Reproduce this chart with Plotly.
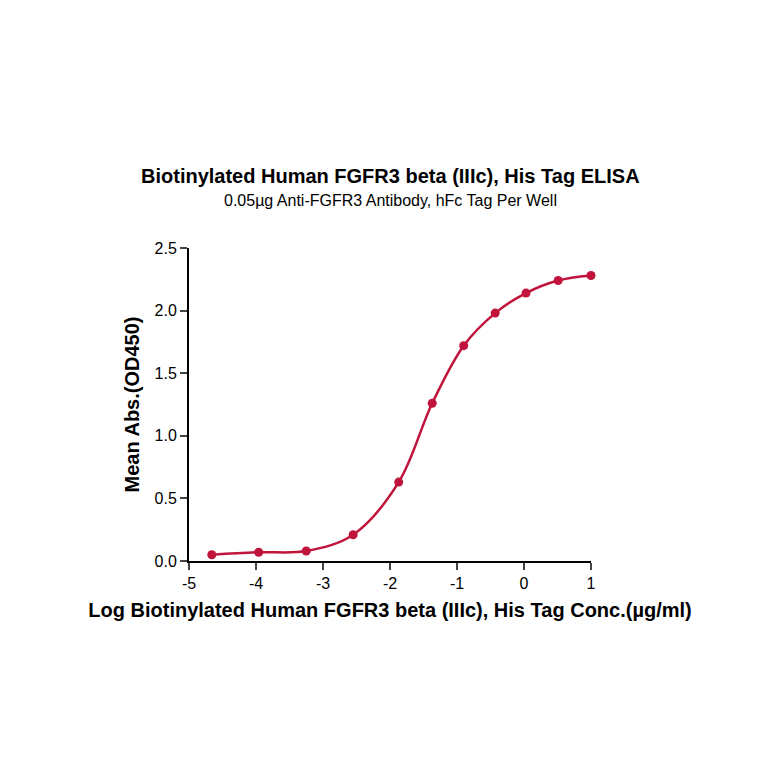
import plotly.graph_objects as go

log_conc = [-4.66, -3.96, -3.25, -2.55, -1.87, -1.37, -0.90, -0.43, 0.03, 0.51, 1.0]
mean_abs = [0.05, 0.07, 0.08, 0.21, 0.63, 1.26, 1.72, 1.98, 2.14, 2.24, 2.28]
x_ticks = [-5, -4, -3, -2, -1, 0, 1]
x_labels = ["-5", "-4", "-3", "-2", "-1", "0", "1"]
y_ticks = [0.0, 0.5, 1.0, 1.5, 2.0, 2.5]
y_labels = ["0.0", "0.5", "1.0", "1.5", "2.0", "2.5"]

color = "#C0143C"
fig = go.Figure()
fig.add_trace(go.Scatter(x=log_conc, y=mean_abs, mode="lines", cliponaxis=False,
                         line=dict(color=color, width=2.5, shape="spline", smoothing=1.0), hoverinfo="skip"))
fig.add_trace(go.Scatter(x=log_conc, y=mean_abs, mode="markers", cliponaxis=False, marker=dict(color=color, size=9)))

fig.update_layout(
    width=764, height=764, showlegend=False,
    paper_bgcolor="white", plot_bgcolor="white",
    margin=dict(l=181, r=181, t=240, b=211, autoexpand=False),
    font=dict(family="Arial, Liberation Sans", color="black"),
)
fig.add_annotation(text="<b>Biotinylated Human FGFR3 beta (IIIc), His Tag ELISA</b>", xref="paper", yref="paper", x=0.5, y=1.0, yshift=85, showarrow=False, font=dict(size=20))
fig.add_annotation(text="0.05µg Anti-FGFR3 Antibody, hFc Tag Per Well", xref="paper", yref="paper", x=0.5, y=1.0, yshift=58, showarrow=False, font=dict(size=16))
fig.update_xaxes(range=[-5, 1], tickvals=x_ticks, ticktext=x_labels, ticks="outside", ticklen=7, tickwidth=2, showline=True, linewidth=2, linecolor="black",
                 showgrid=False, zeroline=False, tickfont=dict(size=16), automargin=False,
                 title=dict(text="<b>Log Biotinylated Human FGFR3 beta (IIIc), His Tag Conc.(µg/ml)</b>", font=dict(size=20), standoff=12))
fig.update_yaxes(range=[0, 2.5], tickvals=y_ticks, ticktext=y_labels, ticks="outside", ticklen=7, tickwidth=2, showline=True, linewidth=2, linecolor="black",
                 showgrid=False, zeroline=False, tickfont=dict(size=16), automargin=False,
                 title=dict(text="<b>Mean Abs.(OD450)</b>", font=dict(size=20), standoff=10))
fig.write_html("out.html")
